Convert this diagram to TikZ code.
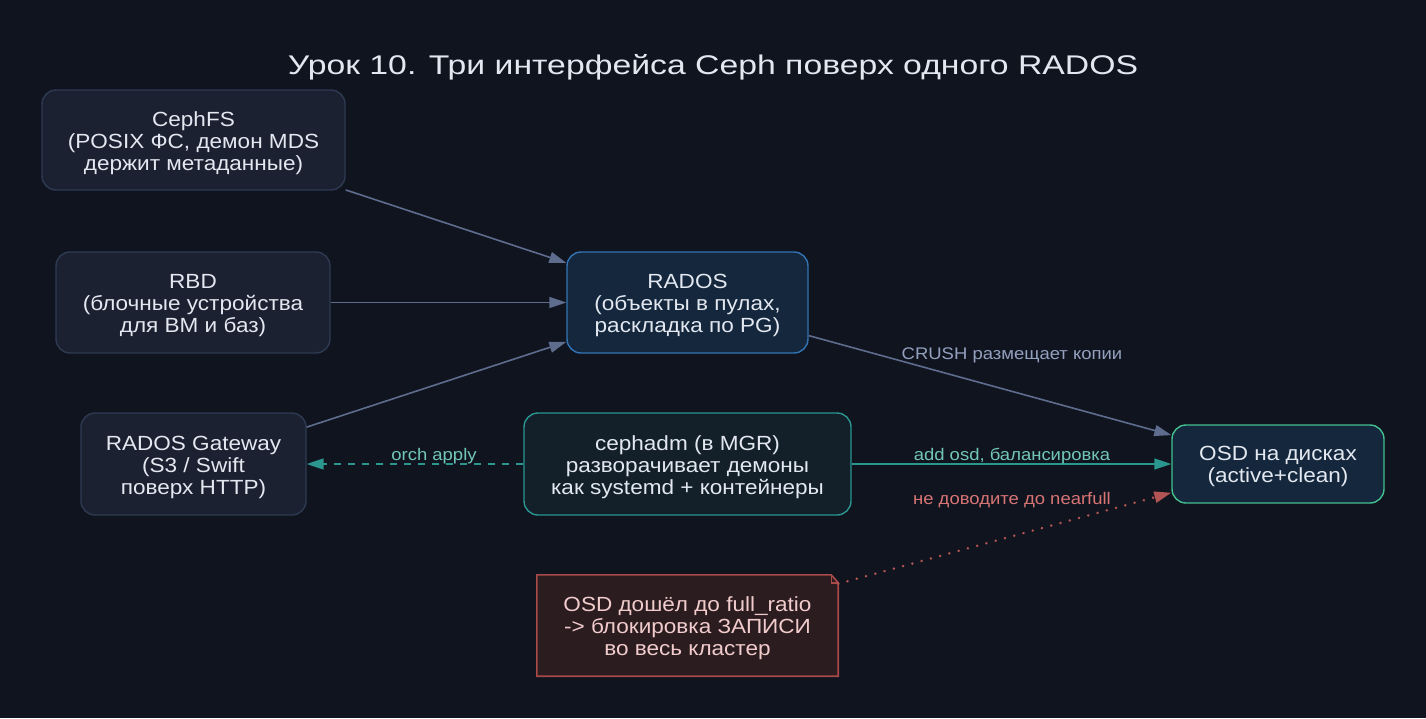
\documentclass[tikz,border=0pt]{standalone}
\usepackage{fontspec}
\setmainfont{Liberation Sans}
\newfontfamily\nodefont[FakeStretch=1.1]{Liberation Sans}
\newfontfamily\titlefont[FakeStretch=1.25]{Liberation Sans}
\usetikzlibrary{arrows.meta,calc}
\definecolor{bg}{HTML}{10141F}
\definecolor{txt}{HTML}{E3E8F0}
\definecolor{gfill}{HTML}{1B2131}
\definecolor{gdraw}{HTML}{2E3A52}
\definecolor{rfill}{HTML}{14273D}
\definecolor{rdraw}{HTML}{3274B5}
\definecolor{cfill}{HTML}{13202A}
\definecolor{cdraw}{HTML}{2A9690}
\definecolor{ofill}{HTML}{14273D}
\definecolor{odraw}{HTML}{44C08F}
\definecolor{nfill}{HTML}{2B1C1F}
\definecolor{ndraw}{HTML}{A84A4A}
\definecolor{ntxt}{HTML}{F2CCCC}
\definecolor{egray}{HTML}{5E6C8E}
\definecolor{lgray}{HTML}{93A0BE}
\definecolor{eteal}{HTML}{2A968E}
\definecolor{lteal}{HTML}{72C6B8}
\definecolor{ered}{HTML}{B35454}
\definecolor{lred}{HTML}{D77474}
\begin{document}
\begin{tikzpicture}[x=1pt,y=-1pt,
  box/.style={rounded corners=14pt, draw, line width=1.4pt, inner sep=0pt},
  gbox/.style={box, fill=gfill, draw=gdraw},
  ntext/.style={align=center, font=\nodefont\fontsize{20.5}{22}\selectfont, text=txt, inner sep=0pt, yshift=-3pt},
  edge/.style={line width=1.6pt, -{Triangle[length=17pt,width=11pt]}},
  lbl/.style={font=\nodefont\fontsize{16.8}{18}\selectfont, inner sep=0pt}
]
\fill[bg] (0,0) rectangle (1426,718);
\useasboundingbox (0,0) rectangle (1426,718);

\node[text=txt, font=\titlefont\fontsize{27}{30}\selectfont, anchor=base, inner sep=0pt] (title) at (713,74.5) {Урок 10. Три интерфейса Ceph поверх одного RADOS};

\node[gbox, minimum width=303pt, minimum height=100pt] (cephfs) at (193.5,140) {};
\node[ntext] (cephfs-t) at (cephfs.center) {CephFS\\(POSIX ФС, демон MDS\\держит метаданные)};
\node[gbox, minimum width=274pt, minimum height=101pt] (rbd) at (193,302.5) {};
\node[ntext] (rbd-t) at (rbd.center) {RBD\\(блочные устройства\\для ВМ и баз)};
\node[gbox, minimum width=225pt, minimum height=102pt] (gw) at (193.5,464) {};
\node[ntext] (gw-t) at (gw.center) {RADOS Gateway\\(S3 / Swift\\поверх HTTP)};
\node[box, fill=rfill, draw=rdraw, minimum width=241pt, minimum height=101pt] (rados) at (687.5,302.5) {};
\node[ntext] (rados-t) at (rados.center) {RADOS\\(объекты в пулах,\\раскладка по PG)};
\node[box, fill=cfill, draw=cdraw, minimum width=327pt, minimum height=102pt] (cephadm) at (687.5,464) {};
\node[ntext] (cephadm-t) at (cephadm.center) {cephadm (в MGR)\\разворачивает демоны\\как systemd + контейнеры};
\node[box, fill=ofill, draw=odraw, minimum width=212pt, minimum height=78pt] (osd) at (1278,464) {};
\node[ntext, yshift=1pt] (osd-t) at (osd.center) {OSD на дисках\\(active+clean)};

\node[inner sep=0pt, minimum width=301pt, minimum height=101pt] (note) at (687.5,625.5) {};
\draw[ndraw, line width=1.6pt, fill=nfill]
  (note.north west) -- ($(note.north east)+(-7,0)$) -- ($(note.north east)+(0,8)$)
  -- (note.south east) -- (note.south west) -- cycle;
\draw[ndraw, line width=1.4pt] ($(note.north east)+(-7,0)$) -- ($(note.north east)+(-7,8)$) -- ($(note.north east)+(0,8)$);
\node[ntext, text=ntxt] (note-t) at (note.center) {OSD дошёл до full\_ratio\\-> блокировка ЗАПИСИ\\во весь кластер};

\draw[edge, egray] (cephfs) -- (rados);
\draw[edge, egray] (rbd) -- (rados);
\draw[edge, egray] (gw) -- (rados);
\draw[edge, egray] (rados) -- (osd);
\draw[edge, eteal] (cephadm) -- (osd);
\draw[edge, eteal, dash pattern=on 7pt off 7pt] (cephadm) -- (gw);
\coordinate (nstart) at ($(note.north east)+(0,9)$);
\coordinate (nend) at ($(osd.south west)+(0,-11)$);
\draw[edge, ered, line cap=round, dash pattern=on 0.1pt off 9.5pt, line width=2.7pt] (nstart) -- (nend);

\node[lbl, text=lgray] (l1) at (1012,355) {CRUSH размещает копии};
\node[lbl, text=lteal] (l2) at (1012,456) {add osd, балансировка};
\node[lbl, text=lteal] (l3) at (434,456) {orch apply};
\node[lbl, text=lred] (l4) at (1012,500) {не доводите до nearfull};
\end{tikzpicture}
\end{document}
